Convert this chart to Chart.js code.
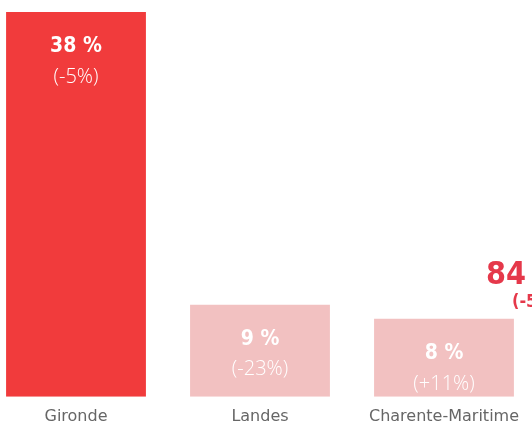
<!DOCTYPE html>
<html>
<head>
<meta charset="utf-8">
<script src="https://cdn.jsdelivr.net/npm/chart.js@4"></script>
<style>
  html, body { margin: 0; padding: 0; width: 532px; height: 427px; overflow: hidden; background: #fff; }
  #wrap { position: absolute; left: -16px; top: 0; width: 552px; height: 436px; }
  .kpi { position: absolute; color: #e5384a; font-family: "DejaVu Sans Condensed", "Roboto", sans-serif; font-weight: bold; white-space: nowrap; }
</style>
</head>
<body>
<div id="wrap"><canvas id="grafico"></canvas></div>
<div class="kpi" style="left:486px; top:254px; font-size:32px;">84 %</div>
<div class="kpi" style="left:512px; top:290px; font-size:18px;">(-5%)</div>
<script>
var departements = ['Gironde', 'Landes', 'Charente-Maritime'];
var parts = [38, 9.1, 7.7];
var partLabels = ['38 %', '9 %', '8 %'];
var evolLabels = ['(-5%)', '(-23%)', '(+11%)'];
var couleurs = ['#f13b3c', '#f2c1c1', '#f2c1c1'];

// Etiquettes dans les barres
var etiquettes = {
    id: 'etiquettes',
    afterDatasetsDraw: function(chart){
        var ctx = chart.ctx;
        var meta = chart.getDatasetMeta(0);
        ctx.save();
        ctx.fillStyle = '#ffffff';
        ctx.textAlign = 'center';
        ctx.textBaseline = 'middle';
        for(var i=0; i < meta.data.length; i++){
            var bar = meta.data[i];
            ctx.font = 'bold 21px "DejaVu Sans Condensed", Roboto, sans-serif';
            ctx.fillText(partLabels[i], bar.x, bar.y + 35);
            ctx.font = '300 20px "Open Sans", sans-serif';
            ctx.fillText(evolLabels[i], bar.x, bar.y + 65);
        }
        ctx.restore();
    }
};

var config = {
    type: 'bar',
    data: {
        labels: departements,
        datasets: [{
            data: parts,
            backgroundColor: couleurs,
            barPercentage: 0.76,
            categoryPercentage: 1
        }]
    },
    options: {
        responsive: true,
        maintainAspectRatio: false,
        animation: false,
        layout: { padding: { top: 12, left: 0, right: 0, bottom: 0 } },
        plugins: { legend: { display: false }, tooltip: { enabled: false } },
        scales: {
            x: {
                grid: { display: false, drawTicks: false },
                border: { display: false },
                ticks: {
                    color: '#666666',
                    padding: 10,
                    font: { family: '"DejaVu Sans", sans-serif', size: 16 }
                }
            },
            y: {
                display: false,
                min: 0,
                max: 38
            }
        }
    },
    plugins: [etiquettes]
};

var myChart = new Chart(document.getElementById('grafico'), config);
</script>
</body>
</html>
